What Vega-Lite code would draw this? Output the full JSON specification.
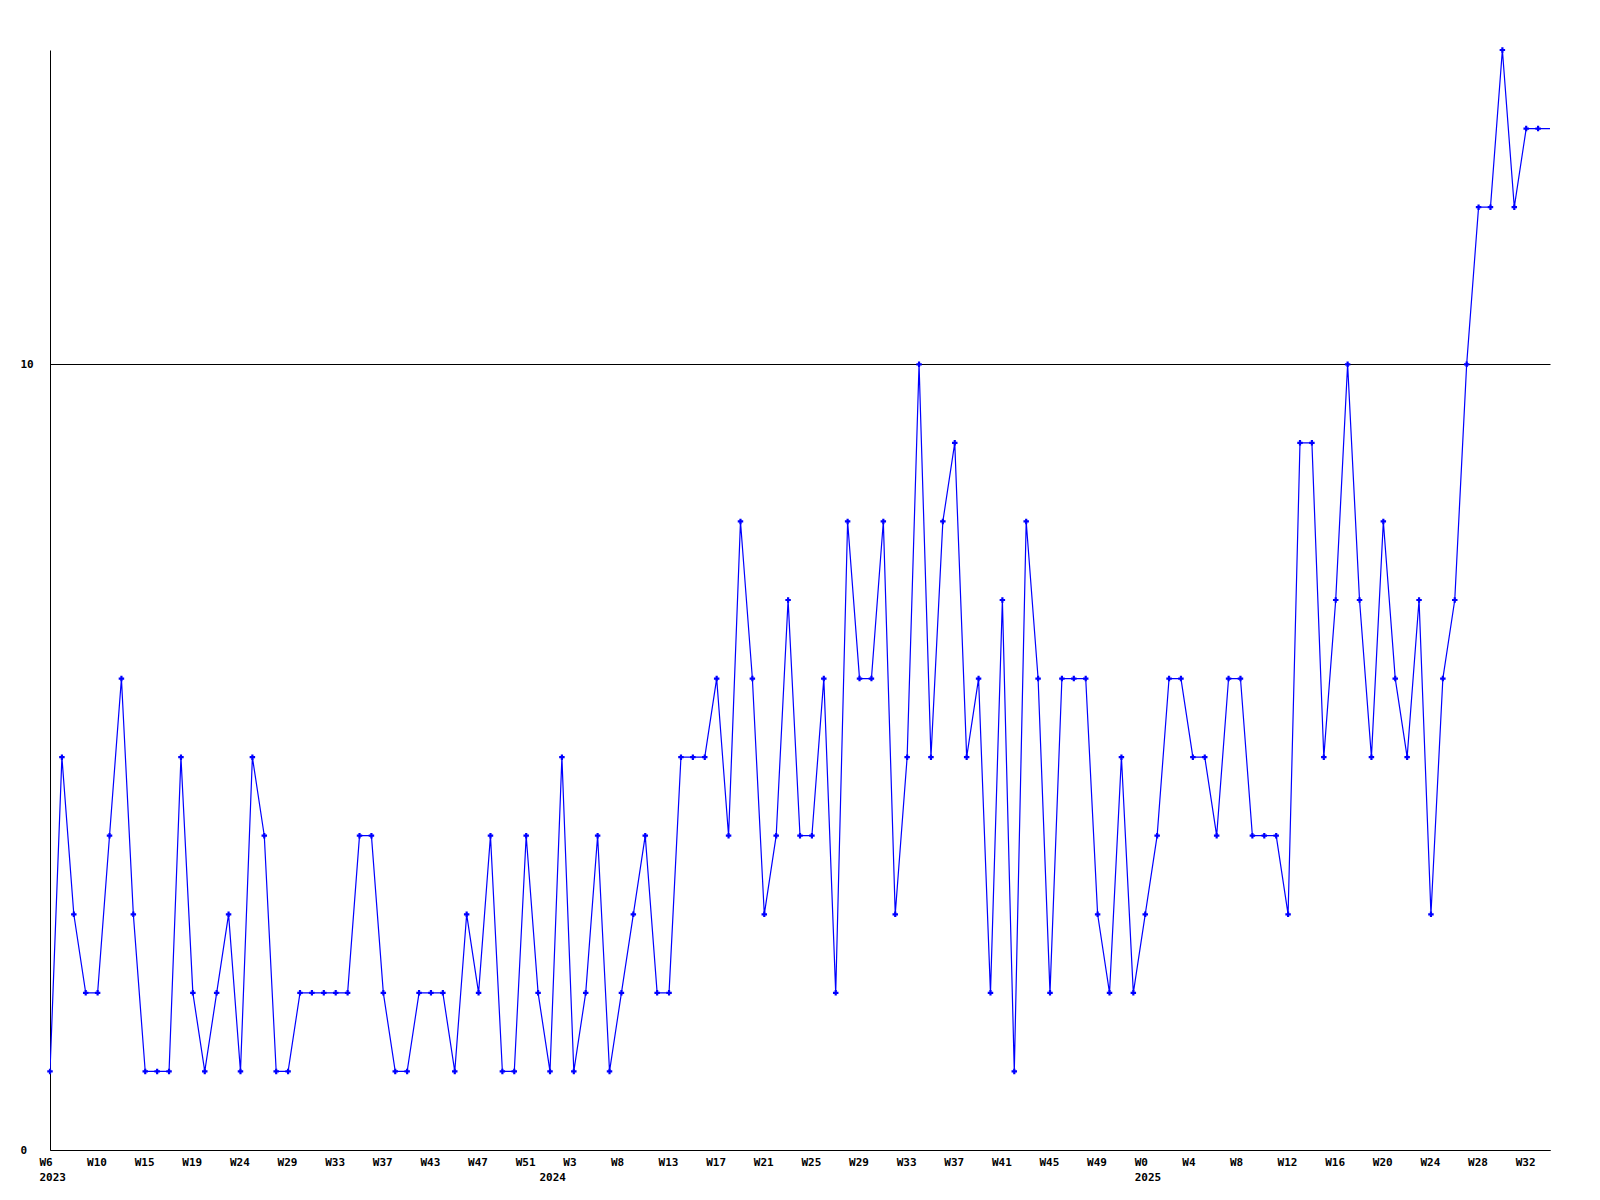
{
  "$schema": "https://vega.github.io/schema/vega-lite/v6.json",
  "width": 1500,
  "height": 1100,
  "autosize": {"type": "none"},
  "padding": {"left": 50, "top": 50, "right": 50, "bottom": 50},
  "background": "white",
  "config": {
    "view": {"stroke": null},
    "axis": {
      "labelFont": "DejaVu Sans Mono",
      "labelFontWeight": "bold",
      "labelFontSize": 11,
      "labelColor": "black",
      "domainColor": "black",
      "domainWidth": 1,
      "ticks": false,
      "title": null
    }
  },
  "data": {
    "values": [
      {"i":0,"v":1},{"i":1,"v":5},{"i":2,"v":3},{"i":3,"v":2},{"i":4,"v":2},{"i":5,"v":4},{"i":6,"v":6},{"i":7,"v":3},{"i":8,"v":1},{"i":9,"v":1},
      {"i":10,"v":1},{"i":11,"v":5},{"i":12,"v":2},{"i":13,"v":1},{"i":14,"v":2},{"i":15,"v":3},{"i":16,"v":1},{"i":17,"v":5},{"i":18,"v":4},{"i":19,"v":1},
      {"i":20,"v":1},{"i":21,"v":2},{"i":22,"v":2},{"i":23,"v":2},{"i":24,"v":2},{"i":25,"v":2},{"i":26,"v":4},{"i":27,"v":4},{"i":28,"v":2},{"i":29,"v":1},
      {"i":30,"v":1},{"i":31,"v":2},{"i":32,"v":2},{"i":33,"v":2},{"i":34,"v":1},{"i":35,"v":3},{"i":36,"v":2},{"i":37,"v":4},{"i":38,"v":1},{"i":39,"v":1},
      {"i":40,"v":4},{"i":41,"v":2},{"i":42,"v":1},{"i":43,"v":5},{"i":44,"v":1},{"i":45,"v":2},{"i":46,"v":4},{"i":47,"v":1},{"i":48,"v":2},{"i":49,"v":3},
      {"i":50,"v":4},{"i":51,"v":2},{"i":52,"v":2},{"i":53,"v":5},{"i":54,"v":5},{"i":55,"v":5},{"i":56,"v":6},{"i":57,"v":4},{"i":58,"v":8},{"i":59,"v":6},
      {"i":60,"v":3},{"i":61,"v":4},{"i":62,"v":7},{"i":63,"v":4},{"i":64,"v":4},{"i":65,"v":6},{"i":66,"v":2},{"i":67,"v":8},{"i":68,"v":6},{"i":69,"v":6},
      {"i":70,"v":8},{"i":71,"v":3},{"i":72,"v":5},{"i":73,"v":10},{"i":74,"v":5},{"i":75,"v":8},{"i":76,"v":9},{"i":77,"v":5},{"i":78,"v":6},{"i":79,"v":2},
      {"i":80,"v":7},{"i":81,"v":1},{"i":82,"v":8},{"i":83,"v":6},{"i":84,"v":2},{"i":85,"v":6},{"i":86,"v":6},{"i":87,"v":6},{"i":88,"v":3},{"i":89,"v":2},
      {"i":90,"v":5},{"i":91,"v":2},{"i":92,"v":3},{"i":93,"v":4},{"i":94,"v":6},{"i":95,"v":6},{"i":96,"v":5},{"i":97,"v":5},{"i":98,"v":4},{"i":99,"v":6},
      {"i":100,"v":6},{"i":101,"v":4},{"i":102,"v":4},{"i":103,"v":4},{"i":104,"v":3},{"i":105,"v":9},{"i":106,"v":9},{"i":107,"v":5},{"i":108,"v":7},{"i":109,"v":10},
      {"i":110,"v":7},{"i":111,"v":5},{"i":112,"v":8},{"i":113,"v":6},{"i":114,"v":5},{"i":115,"v":7},{"i":116,"v":3},{"i":117,"v":6},{"i":118,"v":7},{"i":119,"v":10},
      {"i":120,"v":12},{"i":121,"v":12},{"i":122,"v":14},{"i":123,"v":12},{"i":124,"v":13},{"i":125,"v":13},{"i":126,"v":13}
    ]
  },
  "encoding": {
    "x": {
      "field": "i",
      "type": "quantitative",
      "scale": {"domain": [0, 126], "nice": false, "zero": false},
      "axis": {
        "grid": false,
        "values": [0,4,8,12,16,20,24,28,32,36,40,42,44,48,52,56,60,64,68,72,76,80,84,88,92,96,100,104,108,112,116,120,124],
        "labelAlign": "left",
        "labelOffset": -11,
        "labelPadding": 6,
        "labelLineHeight": 15,
        "labelOverlap": false,
        "labelFlush": false,
        "labelBound": false,
        "labelExpr": "datum.value == 42 ? ['', '2024'] : datum.value == 0 ? ['W6', '2023'] : datum.value == 92 ? ['W0', '2025'] : ['W6','W10','W15','W19','W24','W29','W33','W37','W43','W47','W51','W3','W8','W13','W17','W21','W25','W29','W33','W37','W41','W45','W49','W0','W4','W8','W12','W16','W20','W24','W28','W32'][floor(datum.value / 4)]"
      }
    },
    "y": {
      "field": "v",
      "type": "quantitative",
      "scale": {"domain": [0, 14], "nice": false, "zero": true},
      "axis": {
        "values": [0, 10],
        "grid": true,
        "gridColor": "black",
        "gridOpacity": 1,
        "gridWidth": 1,
        "labelAlign": "left",
        "labelPadding": 30,
        "labelBaseline": "middle"
      }
    }
  },
  "layer": [
    {
      "mark": {"type": "line", "color": "#0000ff", "strokeWidth": 1.2, "clip": true}
    },
    {
      "transform": [{"filter": "datum.i < 126"}],
      "mark": {"type": "point", "shape": "cross", "filled": true, "color": "#0000ff", "size": 30, "opacity": 1}
    }
  ]
}
